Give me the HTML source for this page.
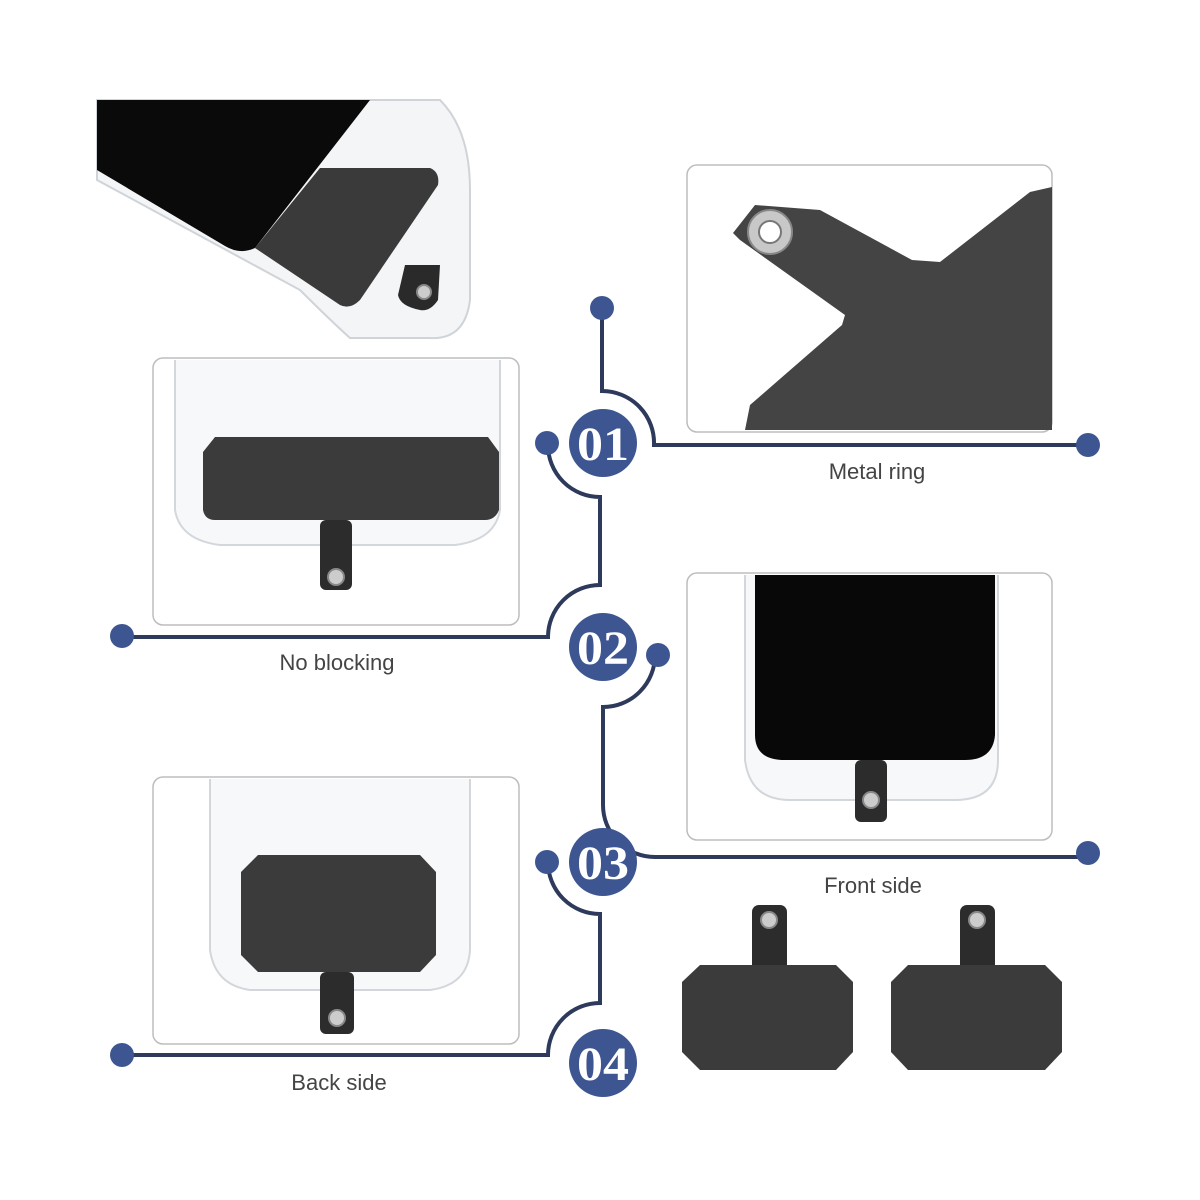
<!DOCTYPE html>
<html><head><meta charset="utf-8"><style>
html,body{margin:0;padding:0;background:#fff}
svg{display:block}
text{font-family:"Liberation Sans",sans-serif}
</style></head><body>
<svg width="1200" height="1200" viewBox="0 0 1200 1200" xmlns="http://www.w3.org/2000/svg">
<rect width="1200" height="1200" fill="#fff"/>
<!-- top-left phone -->
<g>
<path d="M97,100 L440,100 Q470,130 470,190 L470,300 Q465,340 430,338 L350,338 Q330,320 300,290 L97,180 Z" fill="#f3f5f7" stroke="#d0d4d8" stroke-width="2"/>
<path d="M97,100 L370,100 L255,248 Q240,255 225,246 L97,170 Z" fill="#0a0a0a"/>
<path d="M255,248 L320,168 L430,168 Q440,172 438,185 L360,300 Q350,310 340,305 Z" fill="#3a3a3a"/>
<path d="M405,265 L440,265 L438,300 Q430,312 420,310 Q400,306 398,295 Z" fill="#2a2a2a"/>
<circle cx="424" cy="292" r="7" fill="#ccc" stroke="#888" stroke-width="2"/>
</g>
<!-- panels -->
<rect x="687" y="165" width="365" height="267" rx="10" fill="#fff" stroke="#bdbdbd" stroke-width="1.5"/>
<path d="M733,233 L755,205 L820,210 L912,260 L940,262 L1030,192 L1052,187 L1052,430 L745,430 L750,405 L842,325 L845,315 L740,240 Z" fill="#444"/>
<circle cx="770" cy="232" r="22" fill="#c8c8c8" stroke="#888" stroke-width="2"/>
<circle cx="770" cy="232" r="11" fill="#fff" stroke="#777" stroke-width="2"/>

<rect x="153" y="358" width="366" height="267" rx="10" fill="#fff" stroke="#bdbdbd" stroke-width="1.5"/>
<path d="M175,360 L175,510 Q180,540 220,545 L455,545 Q495,540 500,510 L500,360" fill="#f6f8fa" stroke="#d3d7db" stroke-width="2"/>
<path d="M215,437 L488,437 L499,452 L499,510 Q495,520 485,520 L215,520 Q205,520 203,510 L203,452 Z" fill="#3b3b3b"/>
<rect x="320" y="520" width="32" height="70" rx="6" fill="#2c2c2c"/>
<circle cx="336" cy="577" r="8" fill="#ccc" stroke="#888" stroke-width="2"/>

<rect x="687" y="573" width="365" height="267" rx="10" fill="#fff" stroke="#bdbdbd" stroke-width="1.5"/>
<path d="M745,575 L745,760 Q750,800 790,800 L955,800 Q998,800 998,760 L998,575" fill="#f6f8fa" stroke="#d3d7db" stroke-width="2"/>
<path d="M755,575 L995,575 L995,735 Q993,760 965,760 L785,760 Q755,760 755,735 Z" fill="#080808"/>
<rect x="855" y="760" width="32" height="62" rx="6" fill="#2c2c2c"/>
<circle cx="871" cy="800" r="8" fill="#ccc" stroke="#888" stroke-width="2"/>

<rect x="153" y="777" width="366" height="267" rx="10" fill="#fff" stroke="#bdbdbd" stroke-width="1.5"/>
<path d="M210,779 L210,950 Q215,985 250,990 L430,990 Q468,985 470,950 L470,779" fill="#f6f8fa" stroke="#d3d7db" stroke-width="2"/>
<path d="M258,855 L420,855 L436,872 L436,955 L420,972 L258,972 L241,955 L241,872 Z" fill="#3b3b3b"/>
<rect x="320" y="972" width="34" height="62" rx="6" fill="#2c2c2c"/>
<circle cx="337" cy="1018" r="8" fill="#ccc" stroke="#888" stroke-width="2"/>

<!-- bottom right plates -->
<g fill="#3b3b3b">
<rect x="752" y="905" width="35" height="70" rx="7" fill="#2c2c2c"/>
<path d="M700,965 L836,965 L853,982 L853,1052 L836,1070 L700,1070 L682,1052 L682,982 Z"/>
<rect x="960" y="905" width="35" height="70" rx="7" fill="#2c2c2c"/>
<path d="M908,965 L1045,965 L1062,982 L1062,1052 L1045,1070 L908,1070 L891,1052 L891,982 Z"/>
</g>
<circle cx="769" cy="920" r="8" fill="#ccc" stroke="#888" stroke-width="2"/>
<circle cx="977" cy="920" r="8" fill="#ccc" stroke="#888" stroke-width="2"/>

<!-- connectors -->
<g fill="none" stroke="#2e3a5c" stroke-width="4">
<path d="M602,308 V391 A52,52 0 0 1 654,445 H1088"/>
<path d="M548,445 A52,52 0 0 0 600,497 V585 A52,52 0 0 0 548,637 H122"/>
<path d="M655,655 A52,52 0 0 1 603,707 V805 A52,52 0 0 0 655,857 H1088"/>
<path d="M548,862 A52,52 0 0 0 600,914 V1003 A52,52 0 0 0 548,1055 H122"/>
</g>
<g fill="#3d5590">
<circle cx="602" cy="308" r="12"/><circle cx="1088" cy="445" r="12"/>
<circle cx="547" cy="443" r="12"/><circle cx="122" cy="636" r="12"/>
<circle cx="658" cy="655" r="12"/><circle cx="1088" cy="853" r="12"/>
<circle cx="547" cy="862" r="12"/><circle cx="122" cy="1055" r="12"/>
<circle cx="603" cy="443" r="34"/><circle cx="603" cy="647" r="34"/>
<circle cx="603" cy="862" r="34"/><circle cx="603" cy="1063" r="34"/>
</g>
<g font-size="48" font-weight="bold" fill="#fff" text-anchor="middle" style="font-family:'Liberation Serif',serif">
<text x="603" y="460" textLength="52" lengthAdjust="spacingAndGlyphs" style="font-family:'Liberation Serif',serif">01</text>
<text x="603" y="664" textLength="52" lengthAdjust="spacingAndGlyphs" style="font-family:'Liberation Serif',serif">02</text>
<text x="603" y="879" textLength="52" lengthAdjust="spacingAndGlyphs" style="font-family:'Liberation Serif',serif">03</text>
<text x="603" y="1080" textLength="52" lengthAdjust="spacingAndGlyphs" style="font-family:'Liberation Serif',serif">04</text>
</g>
<g font-size="22" fill="#444" text-anchor="middle">
<text x="877" y="479">Metal ring</text>
<text x="337" y="670">No blocking</text>
<text x="873" y="893">Front side</text>
<text x="339" y="1090">Back side</text>
</g>
</svg>
</body></html>
